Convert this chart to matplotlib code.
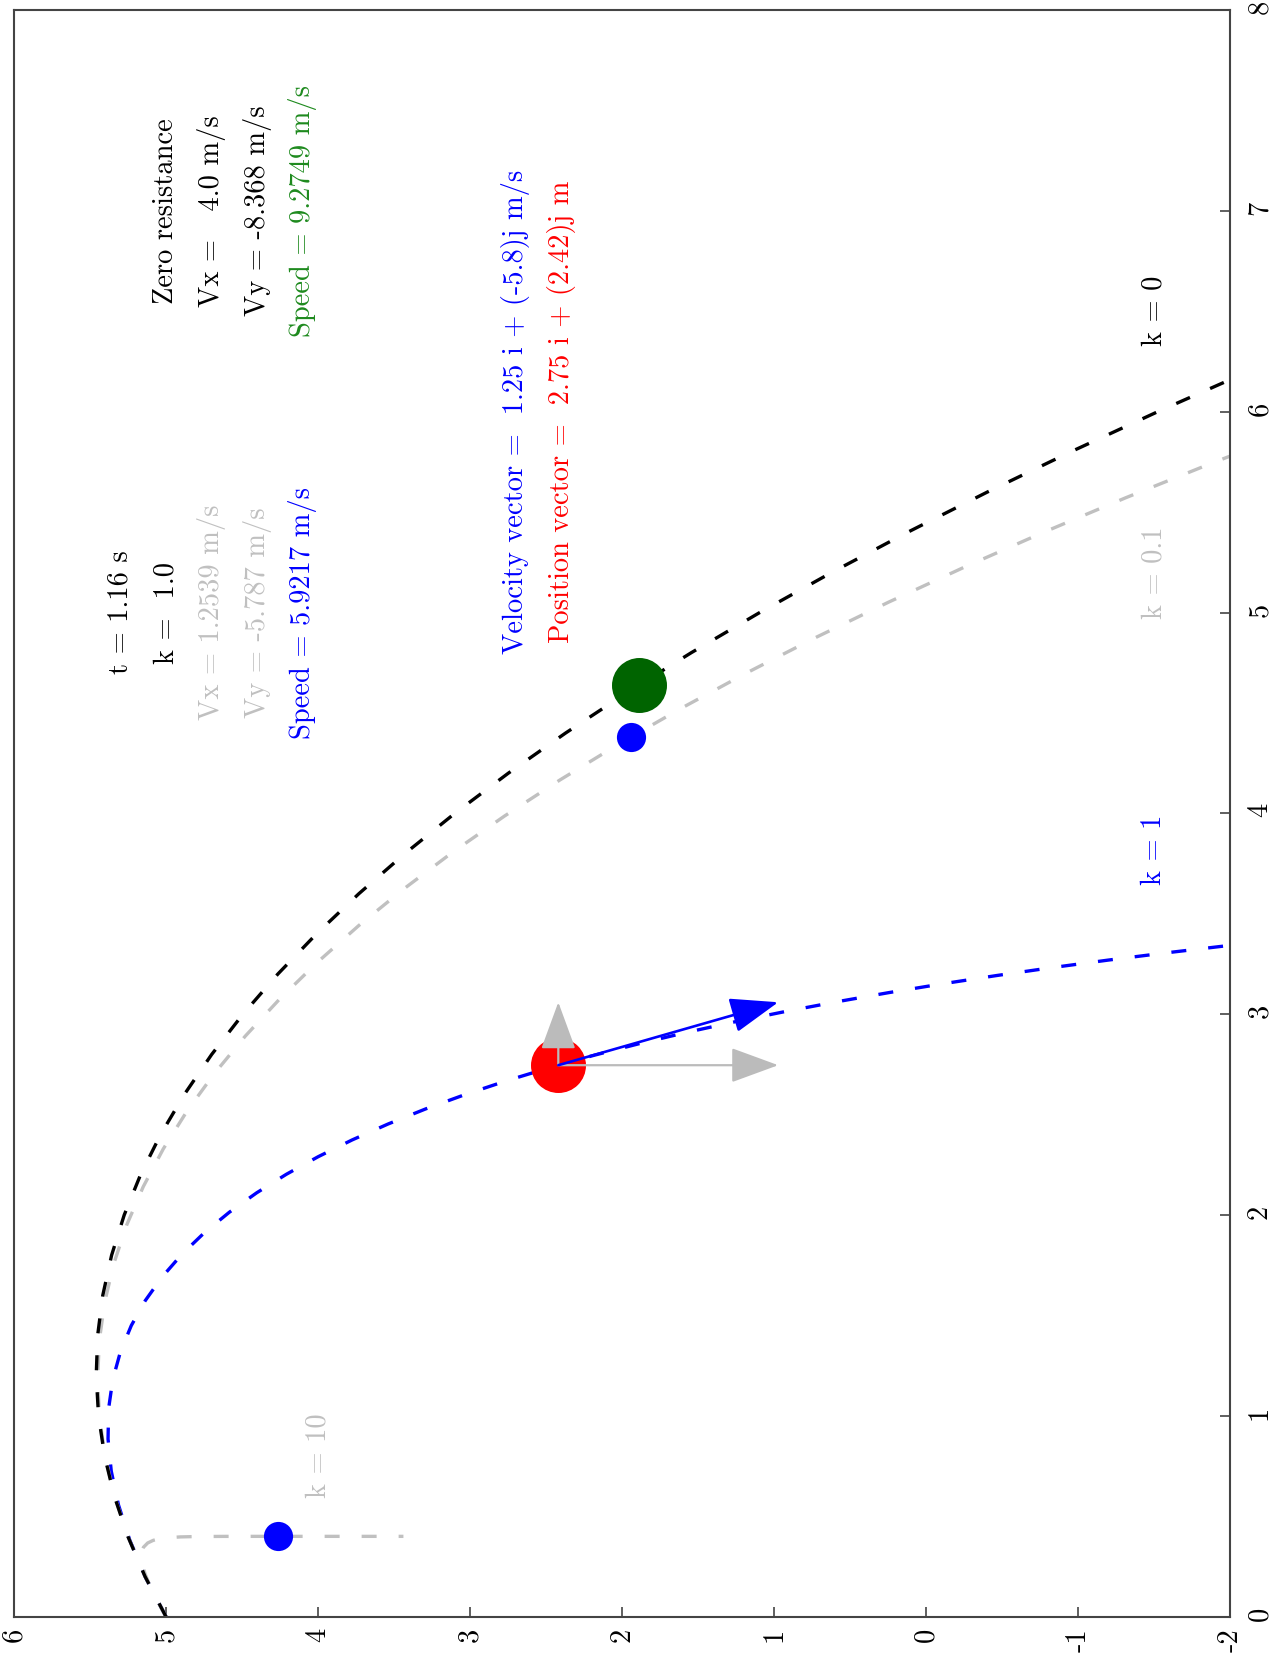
import matplotlib
matplotlib.use("Agg")
import matplotlib.pyplot as plt

# ---------------- data (original x = horizontal distance, y = height) ----------------
# k = 0 (zero resistance)
x_k0 = [0.0, 0.2, 0.4, 0.6, 0.8, 1.0, 1.2, 1.4, 1.6, 1.8, 2.0, 2.2, 2.4, 2.6, 2.8, 3.0, 3.2,
        3.4, 3.6, 3.8, 4.0, 4.2, 4.4, 4.6, 4.8, 5.0, 5.2, 5.4, 5.6, 5.8, 6.0, 6.2, 6.4]
y_k0 = [5.0, 5.1378, 5.251, 5.3398, 5.404, 5.4438, 5.459, 5.4498, 5.416, 5.3578, 5.275,
        5.1678, 5.036, 4.8798, 4.699, 4.4938, 4.264, 4.0098, 3.731, 3.4278, 3.1, 2.7478,
        2.371, 1.9698, 1.544, 1.0938, 0.619, 0.1198, -0.404, -0.9523, -1.525, -2.1223, -2.744]

# k = 0.1
x_k01 = [0.0, 0.1995, 0.398, 0.5955, 0.7921, 0.9876, 1.1822, 1.3758, 1.5684, 1.7601, 1.9508,
         2.1406, 2.3294, 2.5173, 2.7042, 2.8903, 3.0753, 3.2595, 3.4428, 3.6251, 3.8065,
         3.987, 4.1666, 4.3453, 4.5232, 4.7001, 4.8762, 5.0513, 5.2257, 5.3991, 5.5717,
         5.7434, 5.9142]
y_k01 = [5.0, 5.1374, 5.2497, 5.3369, 5.3993, 5.437, 5.45, 5.4386, 5.4027, 5.3425, 5.2583,
         5.15, 5.0178, 4.8619, 4.6822, 4.4791, 4.2525, 4.0026, 3.7295, 3.4333, 3.1142,
         2.7722, 2.4075, 2.0202, 1.6104, 1.1781, 0.7236, 0.2469, -0.2518, -0.7725, -1.315,
         -1.8793, -2.4652]

# k = 1
x_k1 = [0.0, 0.1951, 0.3807, 0.5572, 0.7251, 0.8848, 1.0367, 1.1812, 1.3187, 1.4495, 1.5739,
        1.6922, 1.8048, 1.9118, 2.0137, 2.1105, 2.2027, 2.2903, 2.3737, 2.453, 2.5285,
        2.6002, 2.6685, 2.7335, 2.7952, 2.854, 2.9099, 2.963, 3.0136, 3.0617, 3.1075,
        3.151, 3.1924, 3.2318, 3.2693, 3.3049, 3.3388, 3.3711]
y_k1 = [5.0, 5.1343, 5.2381, 5.3129, 5.3602, 5.3813, 5.3775, 5.35, 5.2999, 5.2284, 5.1364,
        5.025, 4.8952, 4.7478, 4.5837, 4.4037, 4.2086, 3.9991, 3.7759, 3.5397, 3.2911,
        3.0308, 2.7593, 2.477, 2.1847, 1.8827, 1.5716, 1.2517, 0.9236, 0.5875, 0.2439,
        -0.1068, -0.4643, -0.8282, -1.1984, -1.5743, -1.9558, -2.3426]

# k = 10
x_k10 = [0.0, 0.0885, 0.1574, 0.2111, 0.2529, 0.2854, 0.3108, 0.3305, 0.3459, 0.3672,
         0.3801, 0.3879, 0.3927, 0.3973, 0.399, 0.3999, 0.4, 0.4, 0.4]
y_k10 = [5.0, 5.0635, 5.1076, 5.1365, 5.1536, 5.1615, 5.1622, 5.1573, 5.1481, 5.1203,
         5.0842, 5.043, 4.9987, 4.9053, 4.809, 4.6139, 4.418, 3.928, 3.438]

# bodies at t = 1.16 s
body_green = (4.64, 1.887)      # k = 0
body_red = (2.746, 2.419)       # k = 1
body_blue_k01 = (4.381, 1.940)  # k = 0.1
body_blue_k10 = (0.400, 4.261)  # k = 10

# velocity of the k = 1 body
vel_k1 = (1.2539, -5.787)
arrow_scale = 0.25

# texts
info_left = ["t = 1.16 s", "k =  1.0", "Vx = 1.2539 m/s", "Vy = -5.787 m/s", "Speed = 5.9217 m/s"]
info_right = ["Zero resistance", "Vx =   4.0 m/s", "Vy = -8.368 m/s", "Speed = 9.2749 m/s"]
vec_texts = ["Velocity vector =  1.25 i + (-5.8)j m/s", "Position vector =  2.75 i + (2.42)j m"]
k_labels = ["k = 0", "k = 0.1", "k = 1", "k = 10"]

xticks_orig_y = [6, 5, 4, 3, 2, 1, 0, -1, -2]
yticks_orig_x = [0, 1, 2, 3, 4, 5, 6, 7, 8]

# ---------------- style ----------------
plt.rcParams['font.family'] = ['cmr10', 'DejaVu Serif']
plt.rcParams['axes.unicode_minus'] = False

BLACK = '#000000'
GRAY = '#c0c0c0'
BLUE = '#0000ff'
RED = '#ff0000'
GREEN = '#1e8a1e'
DKGREEN = '#006400'
AX = '#444444'
FS = 20.5

fig = plt.figure(figsize=(12.77, 16.62), dpi=100)
ax = fig.add_axes([14 / 1277, 1 - 1616.7 / 1662, (1230 - 14) / 1277, (1616.7 - 10) / 1662])

dash = (0, (4.5, 6.6))
LW = 2.4
# chart is rotated: horizontal axis = original y (inverted), vertical axis = original x
ax.plot(y_k1, x_k1, color=BLUE, lw=LW, linestyle=dash, zorder=1.7)
ax.plot(y_k10, x_k10, color=GRAY, lw=LW, linestyle=dash, zorder=1.8)
ax.plot(y_k01, x_k01, color=GRAY, lw=LW, linestyle=dash, zorder=1.9)
ax.plot(y_k0, x_k0, color=BLACK, lw=LW, linestyle=dash, zorder=2)

ax.plot([body_green[1]], [body_green[0]], 'o', ms=39.6, color=DKGREEN, mew=0, zorder=4)
ax.plot([body_red[1]], [body_red[0]], 'o', ms=39.6, color=RED, mew=0, zorder=4)
ax.plot([body_blue_k01[1]], [body_blue_k01[0]], 'o', ms=21, color=BLUE, mew=0, zorder=4)
ax.plot([body_blue_k10[1]], [body_blue_k10[0]], 'o', ms=21, color=BLUE, mew=0, zorder=4)

# arrows
x0, y0 = body_red
tip_x = x0 + arrow_scale * vel_k1[0]
tip_y = y0 + arrow_scale * vel_k1[1]
astyle = '-|>,head_length=1.5,head_width=0.55'
ax.annotate('', xy=(y0, tip_x), xytext=(y0, x0),
            arrowprops=dict(arrowstyle=astyle, mutation_scale=20, color='#bbbbbb', lw=1.6,
                            shrinkA=0, shrinkB=0), zorder=5)
ax.annotate('', xy=(tip_y, x0), xytext=(y0, x0),
            arrowprops=dict(arrowstyle=astyle, mutation_scale=20, color='#bbbbbb', lw=1.6,
                            shrinkA=0, shrinkB=0), zorder=5)
ax.annotate('', xy=(tip_y, tip_x), xytext=(y0, x0),
            arrowprops=dict(arrowstyle=astyle, mutation_scale=20, color=BLUE, lw=1.9,
                            shrinkA=0, shrinkB=0), zorder=6)

# text blocks
left_colors = [BLACK, BLACK, GRAY, GRAY, BLUE]
left_pos = [5.3, 5.0, 4.7, 4.4, 4.1]
for s, c, p in zip(info_left, left_colors, left_pos):
    ax.text(p, 5.0, s, rotation=90, ha='center', va='center', fontsize=FS, color=c)

right_colors = [BLACK, BLACK, BLACK, GREEN]
right_pos = [5.0, 4.7, 4.4, 4.1]
for s, c, p in zip(info_right, right_colors, right_pos):
    ax.text(p, 7.0, s, rotation=90, ha='center', va='center', fontsize=FS, color=c)

ax.text(2.7, 6.0, vec_texts[0], rotation=90, ha='center', va='center', fontsize=FS, color=BLUE)
ax.text(2.4, 6.0, vec_texts[1], rotation=90, ha='center', va='center', fontsize=FS, color=RED)

k_pos = [(-1.5, 6.5), (-1.5, 5.2), (-1.5, 3.82), (4.0, 0.8)]
k_colors = [BLACK, GRAY, BLUE, GRAY]
for s, (py, px), c in zip(k_labels, k_pos, k_colors):
    ax.text(py, px, s, rotation=90, ha='center', va='center', fontsize=FS, color=c)

# axes
ax.set_xlim(6, -2)
ax.set_ylim(0, 8)
ax.set_xticks(xticks_orig_y)
ax.set_xticklabels([str(v) for v in xticks_orig_y])
ax.yaxis.tick_right()
ax.set_yticks(yticks_orig_x)
ax.set_yticklabels([str(v) for v in yticks_orig_x])
ax.tick_params(axis='x', direction='in', length=7, width=1.2, color=AX, pad=8,
               labelsize=FS, labelrotation=90)
ax.tick_params(axis='y', direction='in', length=7, width=1.2, color=AX, pad=12,
               labelsize=FS, labelrotation=90)
for sp in ax.spines.values():
    sp.set_color(AX)
    sp.set_linewidth(1.5)

fig.savefig('out.png', dpi=100)
